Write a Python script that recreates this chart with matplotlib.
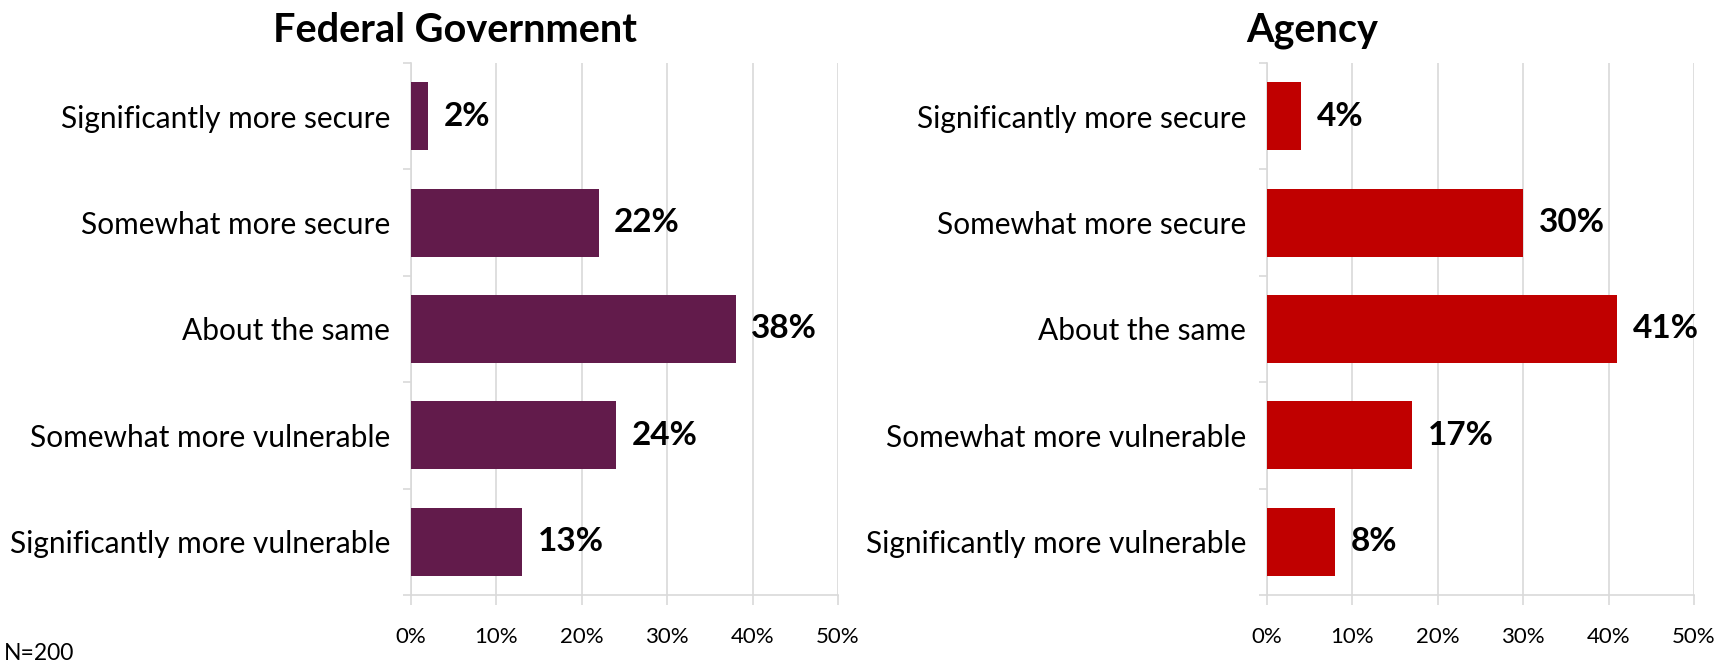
#!/usr/bin/env python3
"""Perceived security shift: federal government vs. agency, horizontal bars."""
import matplotlib

matplotlib.use("Agg")
import matplotlib.pyplot as plt
from matplotlib.ticker import FixedLocator, PercentFormatter

plt.rcParams["font.family"] = ["Lato", "DejaVu Sans"]

CATEGORIES = [
    "Significantly more secure",
    "Somewhat more secure",
    "About the same",
    "Somewhat more vulnerable",
    "Significantly more vulnerable",
]
FEDERAL = [2, 22, 38, 24, 13]
AGENCY = [4, 30, 41, 17, 8]
PANEL_TITLES = ["Federal Government", "Agency"]
COLORS = ["#621B4B", "#C00000"]
X_TICKS = [0, 10, 20, 30, 40, 50]
NOTE = "N=200"

GRID = "#D9D9D9"


def draw_panel(ax, values, color):
    y = range(len(CATEGORIES))
    bars = ax.barh(list(y), values, height=0.64, color=color, zorder=3)
    for b, v in zip(bars, values):
        ax.annotate(f"{v}%", xy=(b.get_width(), b.get_y() + b.get_height() / 2),
                    xytext=(11, 0), textcoords="offset points",
                    ha="left", va="center", fontsize=24, fontweight="bold")
    ax.set_xlim(0, 50)
    ax.set_ylim(len(CATEGORIES) - 0.5, -0.5)
    ax.set_xticks(X_TICKS)
    ax.xaxis.set_major_formatter(PercentFormatter(decimals=0))
    ax.set_yticks(list(y))
    ax.set_yticklabels(CATEGORIES)
    ax.yaxis.set_minor_locator(FixedLocator([i - 0.5 for i in range(len(CATEGORIES) + 1)]))
    ax.tick_params(axis="y", which="major", length=0, pad=15, labelsize=21.5)
    ax.tick_params(axis="y", which="minor", length=6, color=GRID, width=1.2)
    ax.tick_params(axis="x", length=7, color=GRID, width=1.2, pad=16, labelsize=16)
    ax.grid(axis="x", color=GRID, linewidth=1.2, zorder=0)
    for s in ("top", "right"):
        ax.spines[s].set_visible(False)
    for s in ("left", "bottom"):
        ax.spines[s].set_color(GRID)
        ax.spines[s].set_linewidth(1.2)
        ax.spines[s].set_zorder(1)


fig = plt.figure(figsize=(17.33, 6.67), dpi=100)
ax_l = fig.add_axes([0.2372, 0.108, 0.2464, 0.7975])
ax_r = fig.add_axes([0.7311, 0.108, 0.2464, 0.7975])

draw_panel(ax_l, FEDERAL, COLORS[0])
draw_panel(ax_r, AGENCY, COLORS[1])

fig.text(0.2625, 0.955, PANEL_TITLES[0], ha="center", va="center",
         fontsize=28.5, fontweight="bold")
fig.text(0.757, 0.955, PANEL_TITLES[1], ha="center", va="center",
         fontsize=28.5, fontweight="bold")
fig.text(0.002, 0.02, NOTE, ha="left", va="center", fontsize=16.5)

fig.savefig("out.png", dpi=100)
